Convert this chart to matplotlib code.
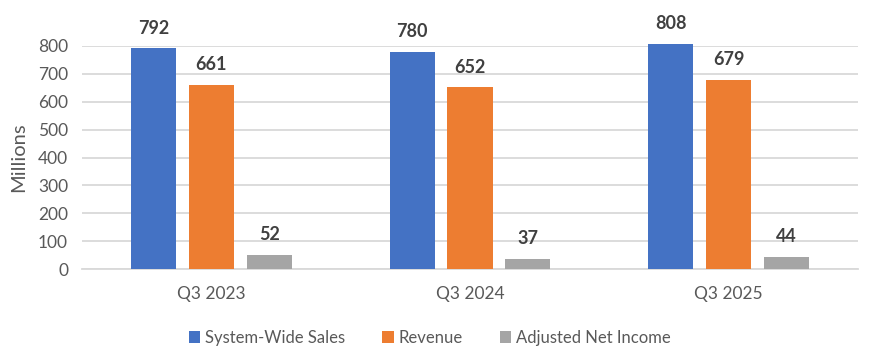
import matplotlib
matplotlib.use("Agg")
import matplotlib.pyplot as plt
import numpy as np

categories = ["Q3 2023", "Q3 2024", "Q3 2025"]
series_names = ["System-Wide Sales", "Revenue", "Adjusted Net Income"]
system_wide_sales = [792, 780, 808]
revenue = [661, 652, 679]
adjusted_net_income = [52, 37, 44]
colors = ["#4472C4", "#ED7D31", "#A5A5A5"]
yticks = [0, 100, 200, 300, 400, 500, 600, 700, 800]

plt.rcParams['font.family'] = ['Lato', 'DejaVu Sans']

fig = plt.figure(figsize=(8.76, 3.63), dpi=100)
ax = fig.add_axes([82/876, 1-269/363, (858-82)/876, (269-46)/363])

x = np.arange(len(categories))
width = 0.174
step = 0.224
all_series = [system_wide_sales, revenue, adjusted_net_income]
for i, (vals, name, c) in enumerate(zip(all_series, series_names, colors)):
    pos = x + (i - 1) * step
    bars = ax.bar(pos, vals, width, color=c, label=name, zorder=3, clip_on=False)
    for b, v in zip(bars, vals):
        ax.annotate(str(v), (b.get_x() + b.get_width()/2, v), xytext=(0, 14.5),
                    textcoords="offset points", ha="center", va="center",
                    fontsize=13, fontweight="bold", color="#404040",
                    annotation_clip=False)

ax.set_xlim(-0.5, 2.5)
ax.set_ylim(0, 800)
ax.set_yticks(yticks)
ax.set_xticks(x)
ax.set_xticklabels(categories)
ax.grid(axis="y", color="#D9D9D9", linewidth=1.3, zorder=0)
ax.set_axisbelow(True)
for s in ["top", "right", "left"]:
    ax.spines[s].set_visible(False)
ax.spines["bottom"].set_color("#D9D9D9")
ax.spines["bottom"].set_linewidth(1.3)
ax.tick_params(axis="both", length=0, labelsize=12.5, labelcolor="#595959")
ax.tick_params(axis="x", pad=12)
ax.tick_params(axis="y", pad=10)
ax.set_ylabel("Millions", fontsize=14.5, color="#595959", labelpad=8)

ax.legend(loc="center", bbox_to_anchor=(430/876, 1-338/363), bbox_transform=fig.transFigure,
          ncol=3, frameon=False, fontsize=12, labelcolor="#595959",
          handlelength=0.7, handleheight=0.7, handletextpad=0.3, columnspacing=2.2)

fig.savefig("out.png", dpi=100)
